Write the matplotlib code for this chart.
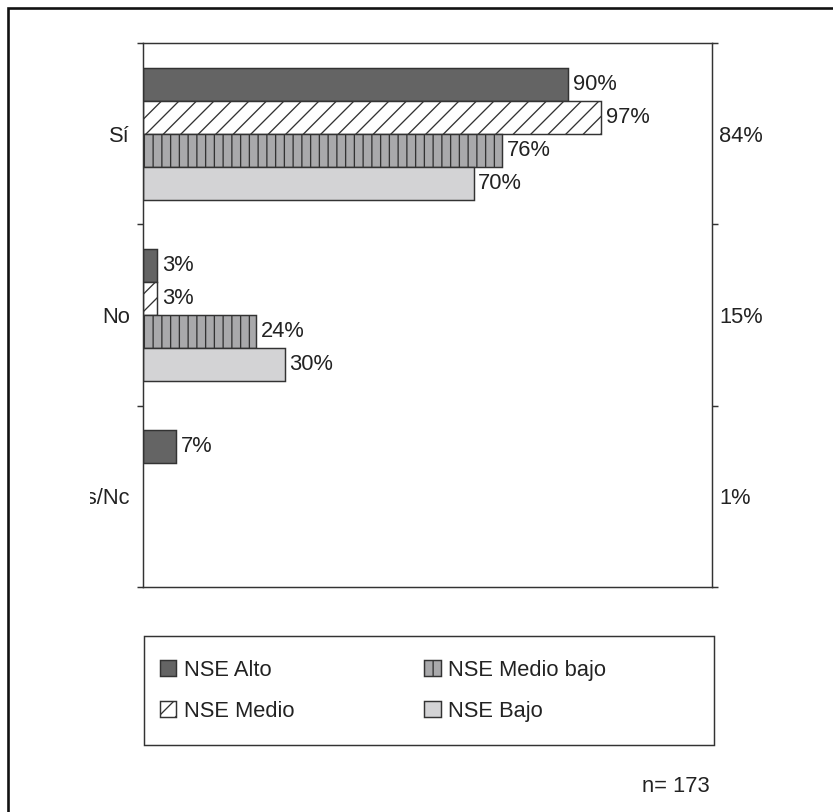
import numpy as np
import matplotlib
matplotlib.use("Agg")
import matplotlib.pyplot as plt
from matplotlib.patches import Rectangle
from matplotlib.transforms import Bbox, TransformedBbox

plt.rcParams['font.family'] = ['Liberation Sans', 'DejaVu Sans']
plt.rcParams['hatch.linewidth'] = 0.9

categorias = ["Sí", "No", "Ns/Nc"]
totales = [84, 15, 1]

grupos = ["NSE Alto", "NSE Medio", "NSE Medio bajo", "NSE Bajo"]
nse_alto = [90, 3, 7]
nse_medio = [97, 3, 0]
nse_medio_bajo = [76, 24, 0]
nse_bajo = [70, 30, 0]
series = [nse_alto, nse_medio, nse_medio_bajo, nse_bajo]

colores = ["#646464", "#ffffff", "#a9a9ab", "#d3d3d5"]
tramas = [None, "//", "||", None]

W, H, DPI = 833, 812, 105
FS = 15
fig = plt.figure(figsize=(W / DPI, H / DPI), dpi=DPI)

def px(x0, y0, x1, y1):
    # rectangulo en pixeles (origen arriba a la izquierda) -> coords de figura
    return [x0 / W, 1 - y1 / H, (x1 - x0) / W, (y1 - y0) / H]

ax = fig.add_axes(px(143, 43, 712, 587))

borde = "#333333"
texto = "#222222"
alto = 0.182
y = np.arange(len(categorias))

for i, (vals, col, hat, nombre) in enumerate(zip(series, colores, tramas, grupos)):
    pos = y + (i - 1.5) * alto
    vals = np.array(vals)
    mask = vals > 0
    ax.barh(pos[mask], vals[mask], height=alto, color=col, hatch=hat,
            edgecolor=borde, linewidth=1.0, label=nombre)
    for p, v in zip(pos[mask], vals[mask]):
        ax.text(v + 1.0, p, f"{v}%", va="center", ha="left",
                fontsize=FS, color=texto)

ax.set_xlim(0, 120.5)
ax.set_ylim(2.5, -0.5)
ax.set_xticks([])

ax.set_yticks(y)
ax.set_yticklabels(categorias)
ax.set_yticks([-0.5, 0.5, 1.5, 2.5], minor=True)
ax.tick_params(axis="y", which="major", length=0, pad=9, labelsize=FS,
               labelcolor=texto)
ax.tick_params(axis="y", which="minor", length=4.2, width=1.0, color=borde,
               direction="out")
for s in ax.spines.values():
    s.set_color(borde)
    s.set_linewidth(1.0)

# eje derecho con los totales
ax2 = ax.twinx()
ax2.set_ylim(ax.get_ylim())
ax2.set_yticks(y)
ax2.set_yticklabels([f"{t}%" for t in totales])
ax2.set_yticks([-0.5, 0.5, 1.5, 2.5], minor=True)
ax2.tick_params(axis="y", which="major", length=0, pad=5, labelsize=FS,
                labelcolor=texto)
ax2.tick_params(axis="y", which="minor", length=4.2, width=1.0, color=borde,
                direction="out")
for s in ax2.spines.values():
    s.set_visible(False)

# etiqueta larga recortada por la caja de rotulos
caja = TransformedBbox(Bbox.from_extents(90 / W, 0, 1, 1), fig.transFigure)
lab = ax.yaxis.get_major_ticks()[2].label1
lab.set_clip_box(caja)
lab.set_clip_on(True)

# recuadro de la leyenda
fig.patches.append(Rectangle((144 / W, 1 - 745 / H), 570 / W, 109 / H,
                             transform=fig.transFigure, fill=False,
                             edgecolor=borde, linewidth=1.0))
h, l = ax.get_legend_handles_labels()
fig.legend(h, l, ncol=2, loc="upper left",
           bbox_to_anchor=(149 / W, 1 - 649 / H), frameon=False,
           fontsize=FS, handlelength=0.75, handleheight=0.75,
           handletextpad=0.35, columnspacing=5.93, labelspacing=0.9,
           borderpad=0, labelcolor=texto)

# marco exterior
fig.patches.append(Rectangle((8 / W, -0.1), 1.1, 1 - 8 / H + 0.1,
                             transform=fig.transFigure, fill=False,
                             edgecolor="#111111", linewidth=1.8))

fig.text(710 / W, 1 - 787 / H, "n= 173", ha="right", va="center",
         fontsize=FS, color=texto)

fig.savefig("out.png", dpi=DPI)
